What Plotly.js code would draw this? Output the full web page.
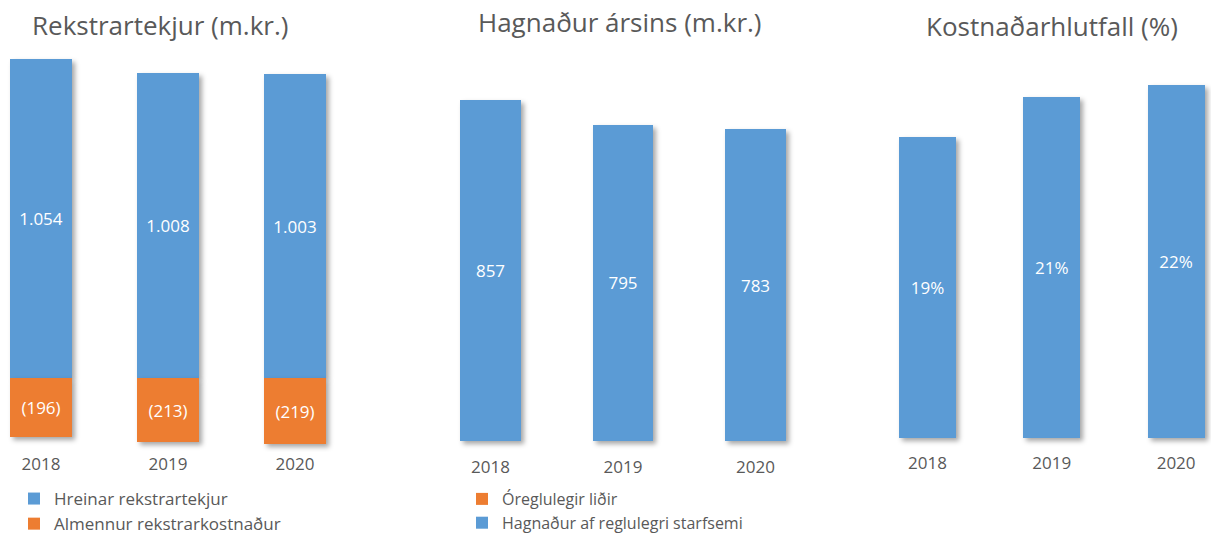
<!DOCTYPE html>
<html>
<head>
<meta charset="utf-8">
<script src="https://cdn.plot.ly/plotly-3.0.1.min.js"></script>
<style>
  html, body { margin: 0; padding: 0; background: #fff; }
  #chart { width: 1211px; height: 536px; }
  .barlayer .point path { filter: drop-shadow(3px 3px 2.5px rgba(0,0,0,0.35)); }
</style>
</head>
<body>
<div id="chart"></div>
<script>
// ---- data ----
const years = ['2018', '2019', '2020'];
const hreinarRekstrartekjur = [1054, 1008, 1003];
const almennurRekstrarkostnadur = [-196, -213, -219];
const hagnadurReglulegri = [857, 795, 783];
const oreglulegirLidir = [0, 0, 0];
const kostnadarhlutfall = [18.6, 21.1, 21.8];
const titles = ['Rekstrartekjur (m.kr.)', 'Hagnaður ársins (m.kr.)', 'Kostnaðarhlutfall (%)'];

// labels in accounting style: negatives shown in parentheses
const almennurLabels = almennurRekstrarkostnadur.map(v => '(' + Math.abs(v) + ')');

// ---- style ----
const W = 1211, H = 536;
const BLUE = '#5B9BD5', ORANGE = '#ED7D31', GREY = '#595959';
const FONT = 'Open Sans, sans-serif';

function xDom(l, r) { return [l / W, r / W]; }
function xRange(l, r, c0, step) { return [(l - c0) / step, (r - c0) / step]; }
function yDom(top, bot) { return [(H - bot) / H, (H - top) / H]; }
function yRange(zero, scale, top, bot) { return [-(bot - zero) / scale, (zero - top) / scale]; }

const txt = { color: '#ffffff', size: 17, family: FONT };

const traces = [
  { type: 'bar', x: years, y: hreinarRekstrartekjur, name: 'Hreinar rekstrartekjur',
    marker: { color: BLUE }, width: 0.49, xaxis: 'x', yaxis: 'y', legend: 'legend',
    texttemplate: '%{y:,.0f}', textposition: 'inside', insidetextanchor: 'middle',
    textfont: txt, constraintext: 'none', textangle: 0, hoverinfo: 'skip' },
  { type: 'bar', x: years, y: almennurRekstrarkostnadur, name: 'Almennur rekstrarkostnaður',
    marker: { color: ORANGE }, width: 0.49, xaxis: 'x', yaxis: 'y', legend: 'legend',
    text: almennurLabels, texttemplate: '%{text}', textposition: 'inside', insidetextanchor: 'middle',
    textfont: txt, constraintext: 'none', textangle: 0, hoverinfo: 'skip' },
  { type: 'bar', x: years, y: oreglulegirLidir, name: 'Óreglulegir liðir',
    marker: { color: ORANGE }, width: 0.453, xaxis: 'x2', yaxis: 'y2', legend: 'legend2',
    textposition: 'none', hoverinfo: 'skip' },
  { type: 'bar', x: years, y: hagnadurReglulegri, name: 'Hagnaður af reglulegri starfsemi',
    marker: { color: BLUE }, width: 0.453, xaxis: 'x2', yaxis: 'y2', legend: 'legend2',
    texttemplate: '%{y:,.0f}', textposition: 'inside', insidetextanchor: 'middle',
    textfont: txt, constraintext: 'none', textangle: 0, hoverinfo: 'skip' },
  { type: 'bar', x: years, y: kostnadarhlutfall, name: 'Kostnaðarhlutfall',
    marker: { color: BLUE }, width: 0.46, xaxis: 'x3', yaxis: 'y3', showlegend: false,
    texttemplate: '%{y:.0f}%', textposition: 'inside', insidetextanchor: 'middle',
    textfont: txt, constraintext: 'none', textangle: 0, hoverinfo: 'skip' }
];

function xa(dom, range, anchor) {
  return { domain: dom, range: range, anchor: anchor, type: 'category', showgrid: false,
    zeroline: false, showline: false, ticks: '', fixedrange: true, automargin: false,
    tickfont: { family: FONT, size: 17, color: GREY } };
}
function ya(dom, range, anchor) {
  return { domain: dom, range: range, anchor: anchor, showgrid: false, zeroline: false,
    showline: false, showticklabels: false, ticks: '', fixedrange: true, automargin: false };
}

const layout = {
  width: W, height: H,
  margin: { l: 0, r: 0, t: 0, b: 0, pad: 0, autoexpand: false },
  paper_bgcolor: '#ffffff', plot_bgcolor: 'rgba(0,0,0,0)',
  barmode: 'relative', bargap: 0,
  separators: ',.',
  font: { family: FONT, color: GREY },
  xaxis: xa(xDom(0, 365), xRange(0, 365, 41, 127), 'y'),
  yaxis: ya(yDom(40, 452), yRange(378, 0.3027, 40, 452), 'x'),
  xaxis2: xa(xDom(430, 820), xRange(430, 820, 490.5, 132.5), 'y2'),
  yaxis2: ya(yDom(40, 455), yRange(441, 0.398, 40, 455), 'x2'),
  xaxis3: xa(xDom(860, 1211), xRange(860, 1211, 927.5, 124.3), 'y3'),
  yaxis3: ya(yDom(40, 451), yRange(438, 16.18, 40, 451), 'x3'),
  legend: { x: 14 / W, y: (H - 481) / H, xanchor: 'left', yanchor: 'top', traceorder: 'normal',
    font: { family: FONT, size: 17, color: GREY }, bgcolor: 'rgba(0,0,0,0)' },
  legend2: { x: 462 / W, y: (H - 482) / H, xanchor: 'left', yanchor: 'top', traceorder: 'normal',
    font: { family: FONT, size: 16, color: GREY }, bgcolor: 'rgba(0,0,0,0)' },
  annotations: [
    { text: titles[0], x: 160 / W, y: (H - 25) / H, xref: 'paper', yref: 'paper', showarrow: false,
      xanchor: 'center', yanchor: 'middle', font: { family: FONT, size: 26, color: GREY } },
    { text: titles[1], x: 620 / W, y: (H - 22) / H, xref: 'paper', yref: 'paper', showarrow: false,
      xanchor: 'center', yanchor: 'middle', font: { family: FONT, size: 26, color: GREY } },
    { text: titles[2], x: 1052 / W, y: (H - 26) / H, xref: 'paper', yref: 'paper', showarrow: false,
      xanchor: 'center', yanchor: 'middle', font: { family: FONT, size: 26, color: GREY } }
  ]
};

Plotly.newPlot('chart', traces, layout, { displayModeBar: false, staticPlot: true });
</script>
</body>
</html>
